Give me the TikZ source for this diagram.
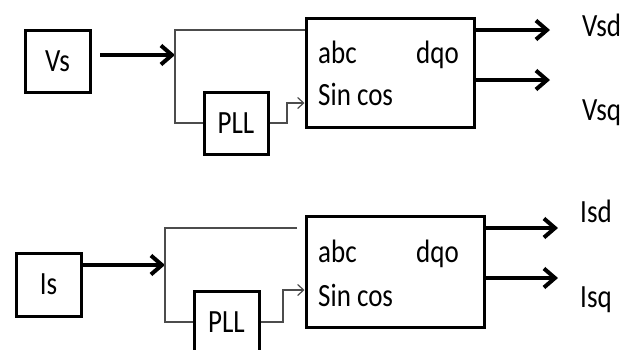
\documentclass[tikz,border=0pt]{standalone}
\usepackage{fontspec}
\usepackage{graphicx}
\setmainfont{Carlito}
\usetikzlibrary{positioning,arrows.meta,calc}

\newcommand{\tall}[1]{\scalebox{1}[1.2]{#1}}

\tikzset{
  blk/.style={draw,line width=3pt,inner sep=0pt,font=\fontsize{27}{30}\selectfont},
  lbl/.style={inner sep=0pt,anchor=base west,font=\fontsize{27}{30}\selectfont},
  thinln/.style={line width=1.2pt,black!70},
  thickarr/.style={line width=4pt,-{Straight Barb[length=11pt,width=19pt]}},
  thinarr/.style={thinln,-{Straight Barb[length=6pt,width=11pt]}},
}

\begin{document}
\begin{tikzpicture}[x=1pt,y=-1pt]
\useasboundingbox (0,0) rectangle (633,349);
\clip (0,0) rectangle (633,349);
% --- voltage branch ---
\node[blk,minimum width=65pt,minimum height=62pt] (vs) at (57.5,61) {\tall{Vs}};
\node[blk,minimum width=64pt,minimum height=62pt] (pll1) at (236,123) {\tall{PLL}};
\node[blk,minimum width=168pt,minimum height=109pt] (conv1) at (390,72.5) {};
\node[lbl] (abc1) at (318,63) {\tall{abc}};
\node[lbl,anchor=base east] (dqo1) at (459,63) {\tall{dqo}};
\node[lbl] (sc1) at (318,105) {\tall{Sin cos}};
\coordinate (in1) at (100,55);
\coordinate (sp1) at (175,55);
\draw[thickarr] (in1) -- (sp1);
\coordinate (top1) at (175,30);
\draw[thinln] (conv1.west |- top1) -- (top1) |- (pll1.west);
\coordinate (k1) at (287,103);
\draw[thinarr] (pll1.east) -| (k1) -- (conv1.west |- k1);
\coordinate (d1) at (550,30);
\coordinate (q1) at (550,80);
\draw[thickarr] (conv1.east |- d1) -- (d1);
\draw[thickarr] (conv1.east |- q1) -- (q1);
\node[lbl] (vsd) at (582,36) {\tall{Vsd}};
\node[lbl] (vsq) at (582,120) {\tall{Vsq}};
% --- current branch ---
\node[blk,minimum width=65pt,minimum height=63pt] (is) at (48.5,284.5) {\tall{Is}};
\node[blk,minimum width=65pt,minimum height=62pt] (pll2) at (226.5,322) {\tall{PLL}};
\node[blk,minimum width=178pt,minimum height=111pt] (conv2) at (395,271.5) {};
\node[lbl] (abc2) at (318,262) {\tall{abc}};
\node[lbl,anchor=base east] (dqo2) at (459,262) {\tall{dqo}};
\node[lbl] (sc2) at (318,306) {\tall{Sin cos}};
\coordinate (sp2) at (165,265);
\draw[thickarr] (is.east |- sp2) -- (sp2);
\coordinate (top2) at (165,228);
\coordinate (e2) at (297,228);
\draw[thinln] (e2) -- (top2) |- (pll2.west);
\coordinate (k2) at (283,290);
\draw[thinarr] (pll2.east) -| (k2) -- (conv2.west |- k2);
\coordinate (d2) at (558,228);
\coordinate (q2) at (558,278);
\draw[thickarr] (conv2.east |- d2) -- (d2);
\draw[thickarr] (conv2.east |- q2) -- (q2);
\node[lbl] (isd) at (580,222) {\tall{Isd}};
\node[lbl] (isq) at (580,307) {\tall{Isq}};
\end{tikzpicture}
\end{document}
